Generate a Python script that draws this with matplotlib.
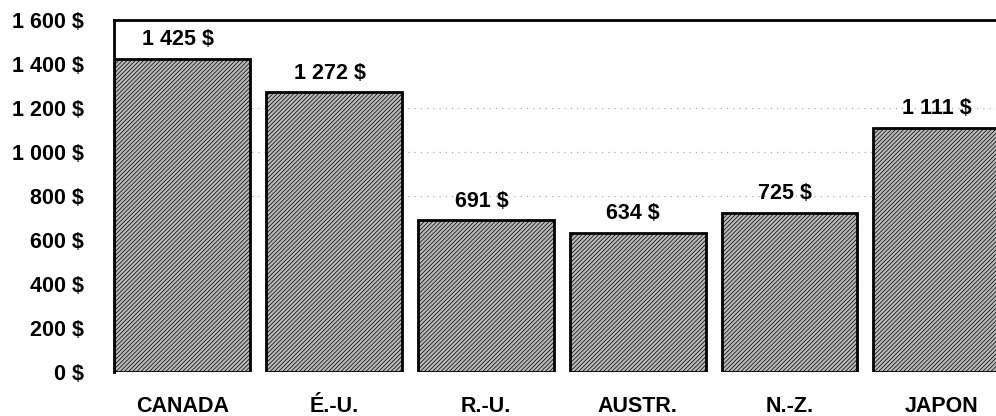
import matplotlib
matplotlib.use('Agg')
import matplotlib.pyplot as plt
from matplotlib import font_manager
from matplotlib.ticker import FuncFormatter

# valeurs
pays = ['CANADA', 'É.-U.', 'R.-U.', 'AUSTR.', 'N.-Z.', 'JAPON']
montants = [1425, 1272, 691, 634, 725, 1111]
graduations = [0, 200, 400, 600, 800, 1000, 1200, 1400, 1600]
grille = [800, 1000, 1200]

# police étroite si elle existe, sinon Liberation Sans
noms = set(f.name for f in font_manager.fontManager.ttflist)
police = 'Liberation Sans'
taille = 15.5
for p in ['Liberation Sans Narrow', 'DejaVu Sans Condensed']:
  if p in noms:
    police = p
    taille = 16
    break
plt.rcParams['font.family'] = [police, 'DejaVu Sans']
plt.rcParams['font.weight'] = 'bold'


def dollars(v, pos=None):
  s = '{:,.0f}'.format(v).replace(',', ' ')
  return s + ' $'


fig = plt.figure(figsize=(9.96, 4.16), dpi=100)
ax = fig.add_axes([114 / 996, 44 / 416, 1 - 114 / 996, 352 / 416])

x = list(range(len(pays)))
for g in grille:
  ax.axhline(g, color='#b0b0b0', lw=0.9, ls=(0, (1, 4)), zorder=0)

plt.rcParams['hatch.color'] = '#868686'
plt.rcParams['hatch.linewidth'] = 0.5
bars = ax.bar(x, montants, width=0.895, color='#b8b8b8', edgecolor='black',
              linewidth=2, hatch='////////', zorder=2)

for xi, v in zip(x, montants):
  ax.text(xi - 0.03, v + 38, dollars(v), ha='center', va='bottom',
          fontsize=taille, fontweight='bold', zorder=3)

ax.set_xlim(-0.45, 5.36)
ax.set_ylim(0, 1600)
ax.set_yticks(graduations)
ax.yaxis.set_major_formatter(FuncFormatter(dollars))
ax.set_xticks(x)
ax.set_xticklabels(pays)
ax.tick_params(axis='y', length=0, pad=22, labelsize=taille)
ax.tick_params(axis='x', length=0, pad=17, labelsize=taille)

ax.spines['right'].set_visible(False)
ax.spines['bottom'].set_visible(False)
ax.spines['left'].set_linewidth(2)
ax.spines['top'].set_linewidth(2)

plt.savefig('out.png', dpi=100)
plt.close()
